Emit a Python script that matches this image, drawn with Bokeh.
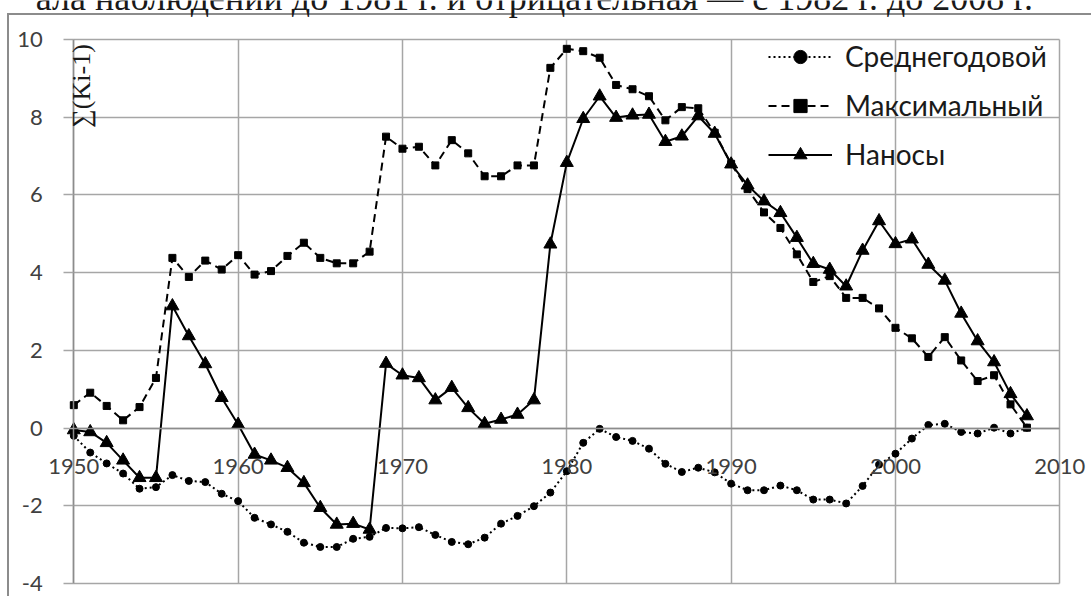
from bokeh.plotting import figure
from bokeh.models import Range1d, FixedTicker, Legend, LegendItem, Label
from bokeh.embed import file_html
from bokeh.resources import INLINE

years = list(range(1950, 2009))

srednegodovoy = [-0.20, -0.63, -0.91, -1.17, -1.56, -1.52, -1.21, -1.36, -1.39, -1.69,
                 -1.88, -2.31, -2.48, -2.67, -2.95, -3.06, -3.06, -2.85, -2.80, -2.57,
                 -2.58, -2.55, -2.75, -2.93, -2.99, -2.82, -2.46, -2.26, -2.01, -1.66,
                 -1.11, -0.38, -0.02, -0.23, -0.33, -0.53, -0.92, -1.13, -1.02, -1.14,
                 -1.43, -1.60, -1.60, -1.48, -1.60, -1.84, -1.84, -1.94, -1.49, -0.94,
                 -0.66, -0.27, 0.08, 0.11, -0.10, -0.14, 0.01, -0.14, 0.01]

maksimalny = [0.59, 0.91, 0.57, 0.20, 0.54, 1.29, 4.38, 3.89, 4.31, 4.08,
              4.45, 3.95, 4.04, 4.43, 4.77, 4.38, 4.24, 4.24, 4.54, 7.50,
              7.19, 7.24, 6.76, 7.41, 7.07, 6.48, 6.48, 6.76, 6.76, 9.27,
              9.76, 9.70, 9.53, 8.83, 8.72, 8.54, 7.92, 8.26, 8.23, 7.60,
              6.80, 6.15, 5.55, 5.15, 4.47, 3.76, 3.91, 3.35, 3.35, 3.08,
              2.58, 2.31, 1.83, 2.34, 1.74, 1.21, 1.36, 0.61, 0.01]

nanosy = [-0.05, -0.10, -0.38, -0.83, -1.28, -1.28, 3.14, 2.37, 1.65, 0.78,
          0.09, -0.68, -0.83, -1.02, -1.41, -2.05, -2.48, -2.46, -2.61, 1.66,
          1.36, 1.29, 0.72, 1.04, 0.52, 0.11, 0.22, 0.35, 0.72, 4.73,
          6.83, 7.96, 8.54, 7.99, 8.05, 8.07, 7.37, 7.51, 8.03, 7.58,
          6.79, 6.25, 5.84, 5.54, 4.90, 4.23, 4.08, 3.65, 4.57, 5.33,
          4.74, 4.86, 4.21, 3.80, 2.95, 2.24, 1.70, 0.88, 0.31]

series_names = ["Среднегодовой", "Максимальный", "Наносы"]
x_ticks = [1950, 1960, 1970, 1980, 1990, 2000, 2010]
x_tick_labels = ["1950", "1960", "1970", "1980", "1990", "2000", "2010"]
y_ticks = [-4, -2, 0, 2, 4, 6, 8, 10]
y_tick_labels = ["-4", "-2", "0", "2", "4", "6", "8", "10"]
y_label = "∑(Ki-1)"
caption = "ала наблюдений до 1981 г. и отрицательная — с 1982 г. до 2008 г."

GRID = "#a6a6a6"
AXIS = "#8c8c8c"
TXT = "#404040"

# plot area: 1950..2010 x -4..10; the frame spans the whole picture so that
# the axes (crossing inside) and their labels are never clipped
X0, X1, Y0, Y1 = 1950, 2010, -4, 10
px_per_year = 986 / (X1 - X0)
px_per_unit = 544 / (Y1 - Y0)
x_range = Range1d(X0 - 73.3 / px_per_year, X1 + 31.7 / px_per_year)
y_range = Range1d(Y0 - 13 / px_per_unit, Y1 + 39 / px_per_unit)

p = figure(width=1091, height=596, output_backend="svg", toolbar_location=None,
           x_range=x_range, y_range=y_range,
           min_border_left=0, min_border_right=0, min_border_top=0,
           min_border_bottom=0)
p.border_fill_color = None
p.background_fill_color = None
p.outline_line_color = None
p.styles = {
    "background-color": "white",
    "background-image": "linear-gradient(#8c8c8c,#8c8c8c), linear-gradient(#8c8c8c,#8c8c8c)",
    "background-size": "2px 100%, 100% 2px",
    "background-position": "7px 13px, 7px 13px",
    "background-repeat": "no-repeat",
}

# grids limited to the plot area
p.xgrid.ticker = FixedTicker(ticks=x_ticks)
p.ygrid.ticker = FixedTicker(ticks=y_ticks)
p.xgrid.cross_bounds = (Y0, Y1)
p.ygrid.cross_bounds = (X0, X1)
for g in (p.xgrid, p.ygrid):
    g.grid_line_color = GRID
    g.grid_line_width = 1.5

# y axis at 1950
ya = p.yaxis[0]
ya.ticker = FixedTicker(ticks=y_ticks)
ya.major_label_overrides = {t: s for t, s in zip(y_ticks, y_tick_labels)}
ya.fixed_location = X0
ya.bounds = (Y0, Y1)
ya.axis_line_color = AXIS
ya.axis_line_width = 1.5
ya.major_tick_line_color = GRID
ya.major_tick_line_width = 1.5
ya.major_tick_out = 10
ya.major_tick_in = 0
ya.minor_tick_line_color = None
ya.major_label_standoff = 21
ya.major_label_text_font = "Lato"
ya.major_label_text_font_size = "22px"
ya.major_label_text_color = TXT

# x axis crossing at y = 0
xa = p.xaxis[0]
xa.ticker = FixedTicker(ticks=x_ticks)
xa.major_label_overrides = {t: s for t, s in zip(x_ticks, x_tick_labels)}
xa.fixed_location = 0
xa.bounds = (X0, X1)
xa.axis_line_color = AXIS
xa.axis_line_width = 1.5
xa.major_tick_line_color = None
xa.major_tick_out = 0
xa.major_tick_in = 0
xa.minor_tick_line_color = None
xa.major_label_standoff = 31
xa.major_label_text_font = "Lato"
xa.major_label_text_font_size = "22px"
xa.major_label_text_color = TXT

# series
l1 = p.line(years, srednegodovoy, line_color="black", line_width=2, line_dash="2 3")
m1 = p.scatter(years, srednegodovoy, marker="circle", size=7, fill_color="black",
               line_color="black")
l2 = p.line(years, maksimalny, line_color="black", line_width=2, line_dash="8 5")
m2 = p.scatter(years, maksimalny, marker="square", size=7, fill_color="black",
               line_color="black")
l3 = p.line(years, nanosy, line_color="black", line_width=2)
m3 = p.scatter(years, nanosy, marker="triangle", size=13, fill_color="black",
               line_color="black")

legend = Legend(items=[LegendItem(label=series_names[0], renderers=[l1, m1]),
                       LegendItem(label=series_names[1], renderers=[l2, m2]),
                       LegendItem(label=series_names[2], renderers=[l3, m3])],
                location=(768, 425), orientation="vertical",
                border_line_color=None, background_fill_alpha=0,
                padding=0, margin=0, spacing=15,
                glyph_width=64, glyph_height=33, label_height=33, label_standoff=13,
                label_text_font="Lato", label_text_font_size="28px",
                label_text_color="#1a1a1a")
p.add_layout(legend)

# rotated axis title inside plot
p.add_layout(Label(x=1950.47, y=7.73, text=y_label, angle=1.5708,
                   text_align="left", text_baseline="middle",
                   text_font="Liberation Serif", text_font_size="26px",
                   text_color="#1a1a1a"))

# caption cut off at the top of the picture
p.add_layout(Label(x=2008.37, y=11.058, text=caption, text_align="right",
                   text_baseline="alphabetic", text_font="Liberation Serif",
                   text_font_size="36px", text_color="#1a1a1a"))

open("out.html", "w").write(file_html(p, INLINE))
